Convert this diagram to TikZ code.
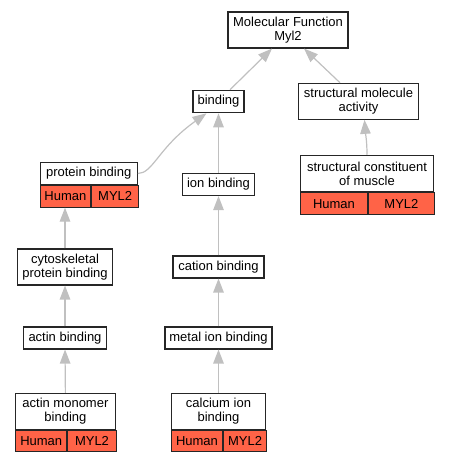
\documentclass[tikz,border=0pt]{standalone}
\usepackage{fontspec}
\setmainfont{Liberation Sans}
\usetikzlibrary{arrows.meta}
\definecolor{tomato}{RGB}{255,99,71}
\definecolor{edgegray}{RGB}{192,192,192}
\begin{document}
\begin{tikzpicture}[x=1pt,y=-1pt,
  term/.style={draw=black!85, line width=1.1pt, fill=white, align=center, inner sep=0pt,
    font=\fontsize{13}{14}\selectfont},
  cell/.style={term, fill=tomato, minimum height=21.7},
  isa/.style={draw=edgegray, line width=1.2pt, -{Triangle[length=14pt,width=10.5pt]}}]
\useasboundingbox (0,0) rectangle (448,461);
\node[term, minimum width=120, minimum height=36] (mf) at (288,30) {Molecular Function\\Myl2};
\node[term, minimum width=51, minimum height=22.5] (bind) at (218.5,101.5) {binding};
\node[term, minimum width=120, minimum height=36] (sma) at (358.5,101.3) {structural molecule\\activity};
\node[term, minimum width=132.6, minimum height=36.4] (scm) at (367,173.5) {structural constituent\\of muscle};
\node[cell, minimum width=66.6, anchor=north west] (scmh) at (scm.south west) {Human};
\node[cell, minimum width=66, anchor=north west] (scmm) at (scmh.north east) {MYL2};
\node[term, minimum width=72, minimum height=22.5] (ionb) at (218.5,184.3) {ion binding};
\node[term, minimum width=97.3, minimum height=21.6] (pb) at (88.7,173.5) {protein binding};
\node[cell, minimum width=50.7, anchor=north west] (pbh) at (pb.south west) {Human};
\node[cell, minimum width=46.6, anchor=north west] (pbm) at (pbh.north east) {MYL2};
\node[term, minimum width=94.4, minimum height=36] (cyto) at (65,267) {cytoskeletal\\protein binding};
\node[term, minimum width=91, minimum height=22] (cation) at (218.5,267) {cation binding};
\node[term, minimum width=83, minimum height=22] (actin) at (65,338) {actin binding};
\node[term, minimum width=107, minimum height=22] (metal) at (218.5,338) {metal ion binding};
\node[term, minimum width=99.3, minimum height=35.7] (amb) at (65.4,411.2) {actin monomer\\binding};
\node[cell, minimum width=51, anchor=north west] (ambh) at (amb.south west) {Human};
\node[cell, minimum width=48.3, anchor=north west] (ambm) at (ambh.north east) {MYL2};
\node[term, minimum width=94, minimum height=35.7] (cib) at (218.5,411.2) {calcium ion\\binding};
\node[cell, minimum width=51, anchor=north west] (cibh) at (cib.south west) {Human};
\node[cell, minimum width=43, anchor=north west] (cibm) at (cibh.north east) {MYL2};
\draw[isa] ([xshift=11.5]bind.north) -- ([xshift=-16]mf.south);
\draw[isa] ([xshift=-18.5]sma.north) -- ([xshift=16]mf.south);
\draw[isa] (scm.north) .. controls +(0,-14) and +(1,14) .. ([xshift=6]sma.south);
\draw[isa] (pb.east) .. controls +(15,0) and +(-48,34) .. ([xshift=-12]bind.south);
\draw[isa] (ionb.north) -- (bind.south);
\draw[isa] (cation.north) -- (ionb.south);
\draw[isa] (metal.north) -- (cation.south);
\draw[isa] (cib.north) -- (metal.south);
\draw[isa] (cyto.north) -- (cyto.north |- pbh.south);
\draw[isa] (actin.north) -- (cyto.south);
\draw[isa] (amb.north) -- (actin.south);
\end{tikzpicture}
\end{document}
